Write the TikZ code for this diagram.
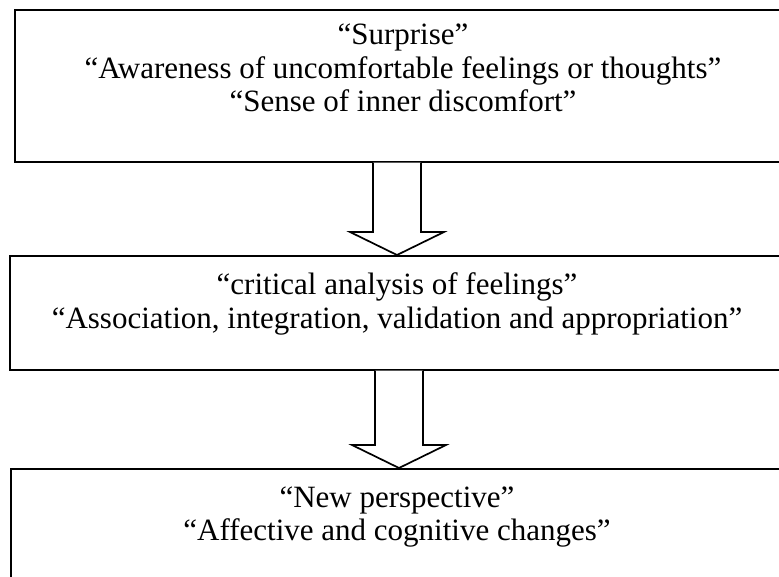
\documentclass[tikz,border=0pt]{standalone}
\usepackage{fontspec}
\setmainfont{Liberation Serif}
\usetikzlibrary{calc}

% hollow downward block arrow from the bottom of one box to the top of the next
\newcommand\hollowdown[2]{%
  \draw[blockarr]
    ($(#1)+(-24,0)$) -- ($(#2)+(-24,-23)$) -- ($(#2)+(-47,-23)$) --
    (#2) -- ($(#2)+(47,-23)$) -- ($(#2)+(24,-23)$) -- ($(#1)+(24,0)$);}

\begin{document}
\begin{tikzpicture}[x=1pt,y=-1pt,
  frame/.style={draw, line width=1.7pt, rectangle, anchor=north west,
    inner sep=0pt, minimum width=800pt},
  label/.style={anchor=base, inner sep=0pt,
    font=\fontsize{31}{34}\selectfont},
  blockarr/.style={draw, fill=white, line width=1.7pt, line join=miter},
]
\useasboundingbox (0,0) rectangle (779,576);
\clip (0,0) rectangle (779,576);

% the three stage boxes (they run past the right-hand edge)
\node[frame, minimum height=152pt] (b1) at (14,9) {};
\node[frame, minimum height=114pt] (b2) at (9,255) {};
\node[frame, minimum height=140pt] (b3) at (10,468) {};

% stage texts
\node[label] (t11) at (403,44)  {“Surprise”};
\node[label] (t12) at (403,78)  {“Awareness of uncomfortable feelings or thoughts”};
\node[label] (t13) at (403,111) {“Sense of inner discomfort”};

\node[label] (t21) at (397,294) {“critical analysis of feelings”};
\node[label] (t22) at (397,328) {“Association, integration, validation and appropriation”};

\node[label] (t31) at (397,507) {“New perspective”};
\node[label] (t32) at (397,540) {“Affective and cognitive changes”};

% arrows between the stages
\coordinate (a1s) at (397,0 |- b1.south);
\coordinate (a1e) at (397,0 |- b2.north);
\coordinate (a2s) at (399,0 |- b2.south);
\coordinate (a2e) at (399,0 |- b3.north);
\hollowdown{a1s}{a1e}
\hollowdown{a2s}{a2e}
\end{tikzpicture}
\end{document}
